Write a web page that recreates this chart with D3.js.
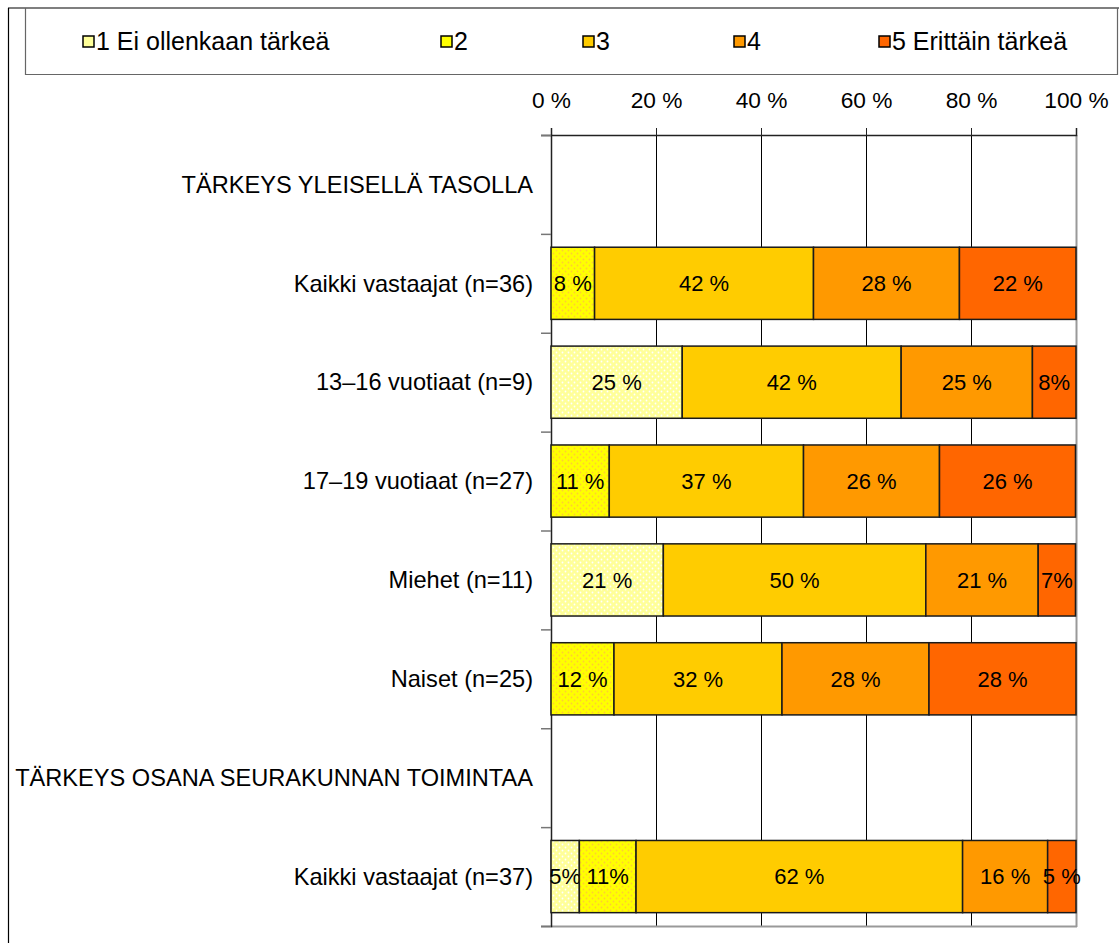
<!DOCTYPE html>
<head>
  <meta charset="utf-8">
  <script src="https://cdn.jsdelivr.net/npm/d3@7"></script>
  <style>
    body { margin: 0; background: #fff; }
    text { font-family: "Liberation Sans", Arial, sans-serif; fill: #000; }
  </style>
</head>
<body>
  <div id="chart"></div>
  <script>
    // Rows of the chart (the two headings have no bar)
    var categories = [
      "TÄRKEYS YLEISELLÄ TASOLLA",
      "Kaikki vastaajat (n=36)",
      "13–16 vuotiaat (n=9)",
      "17–19 vuotiaat (n=27)",
      "Miehet (n=11)",
      "Naiset (n=25)",
      "TÄRKEYS OSANA SEURAKUNNAN TOIMINTAA",
      "Kaikki vastaajat (n=37)"
    ];
    var headings = ["TÄRKEYS YLEISELLÄ TASOLLA", "TÄRKEYS OSANA SEURAKUNNAN TOIMINTAA"];

    var seriesNames = ["1 Ei ollenkaan tärkeä", "2", "3", "4", "5 Erittäin tärkeä"];

    // percentage shares, one array per answer level
    var level1 = [0, 0, 25.0, 0, 21.4, 0, 0, 5.4];
    var level2 = [0, 8.3, 0, 11.1, 0, 12.0, 0, 10.8];
    var level3 = [0, 41.7, 41.7, 37.0, 50.0, 32.0, 0, 62.2];
    var level4 = [0, 27.8, 25.0, 25.9, 21.4, 28.0, 0, 16.2];
    var level5 = [0, 22.2, 8.3, 25.9, 7.1, 28.0, 0, 5.4];

    // the labels printed inside the segments
    var label1 = ["", "", "25 %", "", "21 %", "", "", "5%"];
    var label2 = ["", "8 %", "", "11 %", "", "12 %", "", "11%"];
    var label3 = ["", "42 %", "42 %", "37 %", "50 %", "32 %", "", "62 %"];
    var label4 = ["", "28 %", "25 %", "26 %", "21 %", "28 %", "", "16 %"];
    var label5 = ["", "22 %", "8%", "26 %", "7%", "28 %", "", "5 %"];

    var xTicks = [0, 20, 40, 60, 80, 100];

    var colours = ["url(#dots1)", "url(#dots2)", "#FFCC00", "#FF9900", "#FF6600"];
    var legendColours = ["#FFFF99", "#FFFF00", "#FFCC00", "#FF9900", "#FF6600"];
    var legendX = [83, 441, 583, 734, 879];

    var width = 1119, height = 943;
    var plot = {left: 551, right: 1076, top: 135, bottom: 926};

    var svg = d3.select("#chart").append("svg")
        .attr("width", width)
        .attr("height", height);

    // dotted fills for the two lightest levels
    var defs = svg.append("defs");
    [["dots1", "#FFFF99", "#FFFFFF"], ["dots2", "#FFFF00", "#FFCC33"]].forEach(function(p) {
      var pat = defs.append("pattern")
          .attr("id", p[0])
          .attr("patternUnits", "userSpaceOnUse")
          .attr("width", 6).attr("height", 6);
      pat.append("rect").attr("width", 6).attr("height", 6).attr("fill", p[1]);
      [[1.5, 1.5], [4.5, 4.5]].forEach(function(c) {
        pat.append("circle").attr("cx", c[0]).attr("cy", c[1]).attr("r", 0.9).attr("fill", p[2]);
      });
    });

    // outer frame and legend box
    svg.append("line").attr("x1", 8).attr("y1", 8).attr("x2", width).attr("y2", 8)
        .attr("stroke", "#000").attr("stroke-width", 1.2);
    svg.append("line").attr("x1", 8.5).attr("y1", 8).attr("x2", 8.5).attr("y2", height)
        .attr("stroke", "#000").attr("stroke-width", 1.2);
    svg.append("path")
        .attr("d", "M25.5,8 V74.5 H1117.5 V8")
        .attr("fill", "none").attr("stroke", "#666").attr("stroke-width", 1.2);

    // legend
    var legend = svg.append("g");
    seriesNames.forEach(function(name, i) {
      legend.append("rect")
          .attr("x", legendX[i]).attr("y", 36)
          .attr("width", 11).attr("height", 11)
          .attr("fill", legendColours[i])
          .attr("stroke", "#000").attr("stroke-width", 1.5);
      legend.append("text")
          .attr("x", legendX[i] + 13).attr("y", 41)
          .attr("dy", "0.35em")
          .style("font-size", "25px")
          .text(name);
    });

    var x = d3.scaleLinear().domain([0, 100]).range([plot.left, plot.right]);
    var y = d3.scaleBand().domain(categories)
        .range([plot.top, plot.bottom])
        .paddingInner(0.27).paddingOuter(0.135);
    var rowEdge = d3.scaleLinear().domain([0, categories.length]).range([plot.top, plot.bottom]);

    // vertical gridlines
    svg.append("g").selectAll("line")
        .data(xTicks.slice(1, -1))
        .enter().append("line")
        .attr("x1", function(d) { return x(d) + 0.5; })
        .attr("x2", function(d) { return x(d) + 0.5; })
        .attr("y1", plot.top).attr("y2", plot.bottom)
        .attr("stroke", "#000").attr("stroke-width", 1);

    // right and bottom edge of the plot area
    svg.append("line")
        .attr("x1", plot.right + 0.5).attr("x2", plot.right + 0.5)
        .attr("y1", plot.top).attr("y2", plot.bottom + 1)
        .attr("stroke", "#999").attr("stroke-width", 2);
    svg.append("line")
        .attr("x1", plot.left).attr("x2", plot.right + 1)
        .attr("y1", plot.bottom + 0.5).attr("y2", plot.bottom + 0.5)
        .attr("stroke", "#999").attr("stroke-width", 2);

    // top axis with percent labels
    var xAxis = svg.append("g")
        .attr("transform", "translate(0," + plot.top + ")")
        .call(d3.axisTop(x).tickValues(xTicks).tickSize(7).tickPadding(20)
            .tickFormat(function(d) { return d + " %"; }));
    xAxis.select(".domain").attr("stroke", "#222").attr("stroke-width", 1.5);
    xAxis.selectAll(".tick line").attr("stroke", "#222");
    xAxis.selectAll(".tick text")
        .style("font-size", "22.7px")
        .style("font-family", "Liberation Sans, Arial, sans-serif");

    // left axis: ticks between rows
    var yAxis = svg.append("g")
        .attr("transform", "translate(" + plot.left + ",0)")
        .call(d3.axisLeft(rowEdge).tickValues(d3.range(categories.length + 1))
            .tickSize(10).tickFormat(""));
    yAxis.select(".domain").attr("stroke", "#222").attr("stroke-width", 1.5);
    yAxis.selectAll(".tick line").attr("stroke", "#777").attr("stroke-width", 1.5);

    // category labels
    svg.append("g").selectAll("text")
        .data(categories)
        .enter().append("text")
        .attr("x", plot.left - 18)
        .attr("y", function(d) { return y(d) + y.bandwidth() / 2; })
        .attr("dy", "0.35em")
        .attr("text-anchor", "end")
        .style("font-size", "23.6px")
        .text(function(d) { return d; });

    // stacked bars
    var levels = [level1, level2, level3, level4, level5];
    var labels = [label1, label2, label3, label4, label5];
    var keys = d3.range(levels.length);
    var rows = categories.map(function(c, i) {
      var r = {category: c};
      keys.forEach(function(k) { r[k] = levels[k][i]; });
      return r;
    });
    var stacked = d3.stack().keys(keys)(rows);

    var barRows = function(layer) {
      return layer.filter(function(d) {
        return headings.indexOf(d.data.category) < 0 && d[1] - d[0] > 0;
      });
    };

    var layers = svg.append("g").selectAll("g")
        .data(stacked)
        .enter().append("g");

    layers.selectAll("rect")
        .data(function(layer) { return barRows(layer); })
        .enter().append("rect")
        .attr("x", function(d) { return x(d[0]); })
        .attr("width", function(d) { return x(d[1]) - x(d[0]); })
        .attr("y", function(d) { return y(d.data.category); })
        .attr("height", y.bandwidth())
        .attr("fill", function(d, i, nodes) { return colours[d3.select(nodes[i].parentNode).datum().key]; })
        .attr("stroke", "#1a1a1a").attr("stroke-width", 1.5);

    layers.selectAll("text")
        .data(function(layer) {
          return barRows(layer).map(function(d) {
            return {d: d, text: labels[layer.key][categories.indexOf(d.data.category)]};
          });
        })
        .enter().append("text")
        .attr("x", function(o) { return (x(o.d[0]) + x(o.d[1])) / 2; })
        .attr("y", function(o) { return y(o.d.data.category) + y.bandwidth() / 2; })
        .attr("dy", "0.35em")
        .attr("text-anchor", "middle")
        .style("font-size", "22px")
        .text(function(o) { return o.text; });
  </script>
</body>
